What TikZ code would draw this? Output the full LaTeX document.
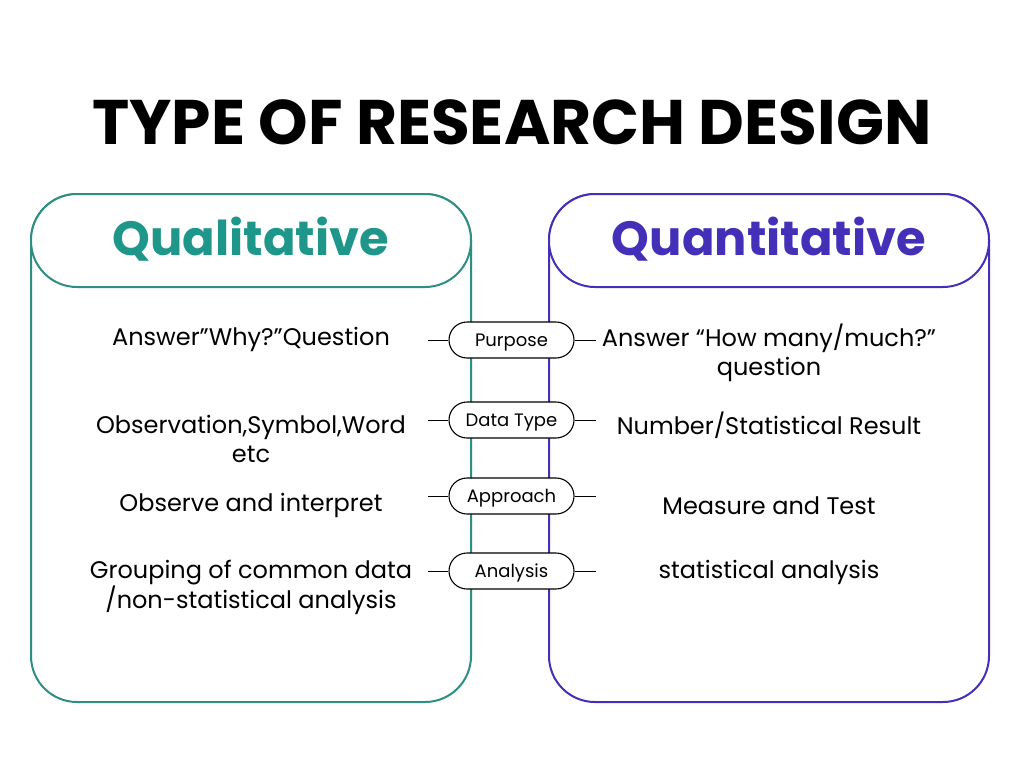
\documentclass[tikz,border=0pt]{standalone}
\usepackage{fontspec}
\setmainfont{Poppins}
\definecolor{teal1}{HTML}{1E968A}
\definecolor{tealline}{HTML}{2E8E82}
\definecolor{purp}{HTML}{4430B8}
\begin{document}
\begin{tikzpicture}[x=1pt,y=-1pt,
  body/.style={font=\fontsize{24}{29}\selectfont, align=center, text=black, inner sep=0},
  pill/.style={draw=black, line width=1.1pt, fill=white, rounded corners=18pt, minimum width=125pt, minimum height=36pt, font=\fontsize{18}{20}\selectfont, inner sep=0, text height=12.6pt, text depth=0pt},
  tick/.style={draw=black, line width=1pt},
  hdr/.style={font=\fontsize{48}{52}\selectfont\bfseries, inner sep=0}]
\useasboundingbox (0,0) rectangle (1024,765);
\fill[white] (0,0) rectangle (1024,765);
% title
\node[font=\fontsize{63}{68}\selectfont\bfseries, inner sep=0] (title) at (512,122) {TYPE OF RESEARCH DESIGN};
% left box
\draw[tealline, line width=2pt, rounded corners=46pt] (31,194) rectangle (471,702);
\draw[tealline, line width=2pt, rounded corners=46pt, fill=white] (31,194) rectangle (471,287);
\node[hdr, text=teal1] (qual) at (251,239) {Qualitative};
% right box
\draw[purp, line width=2pt, rounded corners=46pt] (549,194) rectangle (989,702);
\draw[purp, line width=2pt, rounded corners=46pt, fill=white] (549,194) rectangle (989,287);
\node[hdr, text=purp] (quan) at (769,239) {Quantitative};
% pills
\foreach \n/\t/\y in {p1/Purpose/340, p2/Data Type/420, p3/Approach/496, p4/Analysis/571}{
  \node[pill] (\n) at (511.5,\y) {\t};
  \coordinate (\n L) at (428,\y);
  \coordinate (\n R) at (596,\y);
  \draw[tick] (\n L) -- (\n.west);
  \draw[tick] (\n.east) -- (\n R);
}
% left texts
\node[body] (l1) at (251,339) {Answer”Why?”Question};
\node[body] (l2) at (251,439) {Observation,Symbol,Word\\etc};
\node[body] (l3) at (251,505.5) {Observe and interpret};
\node[body] (l4) at (251,587) {Grouping of common data\\/non-statistical analysis};
% right texts
\node[body] (r1) at (769,353) {Answer “How many/much?”\\question};
\node[body] (r2) at (769,425.5) {Number/Statistical Result};
\node[body] (r3) at (769,505.5) {Measure and Test};
\node[body] (r4) at (769,572.5) {statistical analysis};
\end{tikzpicture}
\end{document}
